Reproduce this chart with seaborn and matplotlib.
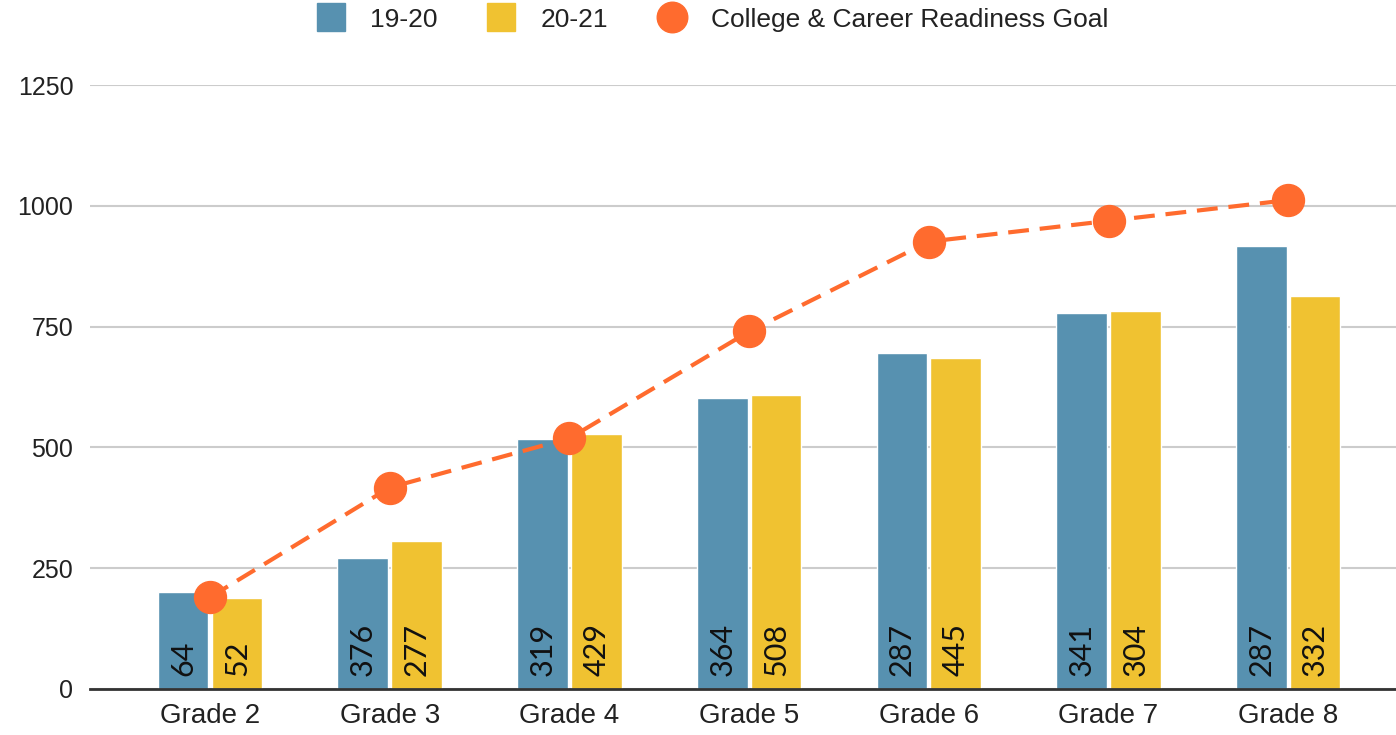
import numpy as np
import pandas as pd
import matplotlib
matplotlib.use("Agg")
import matplotlib.pyplot as plt
import seaborn as sns
from matplotlib.lines import Line2D

# ──────────────────────────────────────────────
# Data
# ──────────────────────────────────────────────
grades = ["Grade 2", "Grade 3", "Grade 4", "Grade 5", "Grade 6", "Grade 7", "Grade 8"]
scores_1920 = [200, 271, 517, 603, 696, 779, 917]
scores_2021 = [188, 306, 527, 609, 686, 783, 814]
counts_1920 = [64, 376, 319, 364, 287, 341, 287]
counts_2021 = [52, 277, 429, 508, 445, 304, 332]
goal = [190, 417, 519, 740, 926, 969, 1012]
years = ["19-20", "20-21"]

BLUE = "#5791b0"
YELLOW = "#f0c231"
ORANGE = "#ff6b2e"

df = pd.DataFrame({
    "grade": grades * 2,
    "year": [years[0]] * len(grades) + [years[1]] * len(grades),
    "score": scores_1920 + scores_2021,
})

sns.set_style("white")
plt.rcParams["font.family"] = ["Liberation Sans", "DejaVu Sans"]

fig = plt.figure(figsize=(13.96, 7.35), dpi=100)
ax = fig.add_axes([0.0645, 0.0626, 0.9355, 0.8216])

sns.barplot(data=df, x="grade", y="score", hue="year", order=grades,
            hue_order=years, palette=[BLUE, YELLOW], width=0.6, gap=0.06,
            saturation=1, ax=ax, legend=False)

# count labels inside the bars, sitting on the baseline
for container, counts in zip(ax.containers, [counts_1920, counts_2021]):
    for bar, n in zip(container, counts):
        ax.annotate(str(n), xy=(bar.get_x() + bar.get_width() / 2, 0),
                    xytext=(0, 9), textcoords="offset points",
                    rotation=90, ha="center", va="bottom",
                    fontsize=22, family=["Lato", "DejaVu Sans"], color="#111111")

# goal line
x_pos = np.arange(len(grades))
ax.plot(x_pos, goal, ls=(0, (5, 2.6)), lw=3, color=ORANGE, zorder=4)
ax.plot(x_pos, goal, ls="none", marker="o", ms=23, color=ORANGE, zorder=5)

ax.set_ylim(0, 1250)
ax.set_xlim(-0.668, 6.6)
ax.set_yticks([0, 250, 500, 750, 1000, 1250])
ax.yaxis.grid(True, color="#cccccc", lw=1.5)
ax.set_axisbelow(True)
for s in ["top", "right", "left"]:
    ax.spines[s].set_visible(False)
ax.spines["bottom"].set_color("#333333")
ax.spines["bottom"].set_linewidth(2)
ax.set_xlabel("")
ax.set_ylabel("")
ax.tick_params(axis="y", length=0, pad=12, labelsize=18, labelcolor="#222222")
ax.tick_params(axis="x", length=0, pad=10, labelsize=20, labelcolor="#222222")

handles = [
    Line2D([], [], ls="none", marker="s", ms=20, color=BLUE),
    Line2D([], [], ls="none", marker="s", ms=20, color=YELLOW),
    Line2D([], [], ls="none", marker="o", ms=22, color=ORANGE),
]
fig.legend(handles, years + ["College & Career Readiness Goal"],
           loc="upper center", bbox_to_anchor=(0.506, 1.022), ncol=3,
           frameon=False, fontsize=19, handletextpad=0.5, columnspacing=1.4,
           labelcolor="#222222")

fig.savefig("out.png", dpi=100)
